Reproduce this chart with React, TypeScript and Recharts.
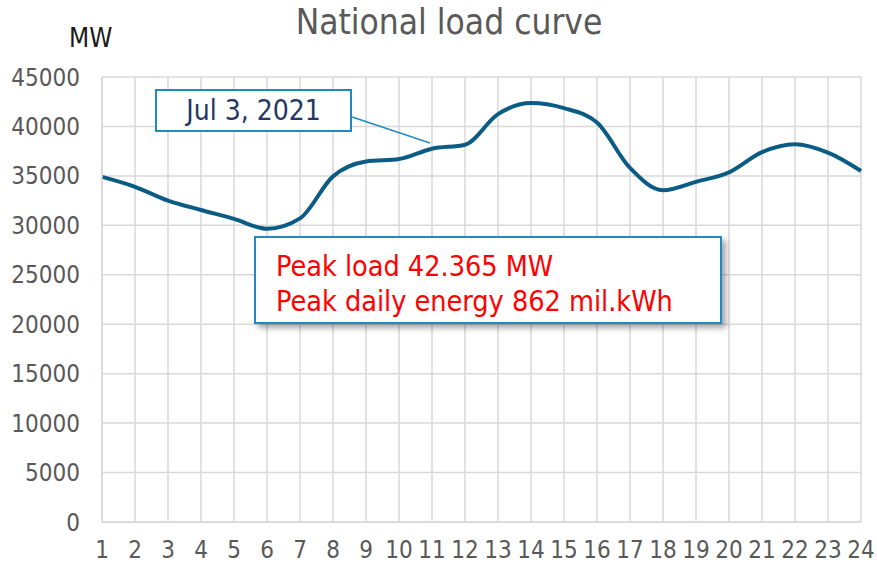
import { LineChart, Line, XAxis, YAxis, CartesianGrid, ReferenceLine } from 'recharts';

// hourly national load (MW)
const hours = [1, 2, 3, 4, 5, 6, 7, 8, 9, 10, 11, 12, 13, 14, 15, 16, 17, 18, 19, 20, 21, 22, 23, 24];
const load = [
  34900, 33900, 32500, 31550, 30650, 29650, 30700, 34950, 36450, 36700, 37750, 38150,
  41250, 42365, 41850, 40400, 35800, 33550, 34400, 35350, 37400, 38200, 37350, 35500,
];
const yTicks = [0, 5000, 10000, 15000, 20000, 25000, 30000, 35000, 40000, 45000];

const title = 'National load curve';
const unitLabel = 'MW';
const dateNote = 'Jul 3, 2021';
const peakNotes = ['Peak load 42.365 MW', 'Peak daily energy 862 mil.kWh'];

// callout leader, from the date box to the curve near hour 11
const leader = [
  { x: 8.58, y: 40950 },
  { x: 10.94, y: 38330 },
];

const data = hours.map((h, i) => ({ hour: h, load: load[i] }));

const FONT = '"DejaVu Sans Condensed", "DejaVu Sans", sans-serif';
const LINE = '#0b5c85';
const GRID = '#d9d9d9';
const BOXBLUE = '#2389c2';

export default function App() {
  return (
    <div style={{ position: 'absolute', left: 0, top: 0, width: 877, height: 566, background: '#fff', fontFamily: FONT }}>
      <LineChart width={877} height={566} data={data} margin={{ top: 77, right: 16, bottom: 0, left: 0 }}>
        <CartesianGrid stroke={GRID} strokeWidth={1.5} />
        <XAxis
          dataKey="hour"
          type="number"
          domain={[1, 24]}
          ticks={hours}
          interval={0}
          height={44}
          axisLine={{ stroke: GRID, strokeWidth: 1.5 }}
          tickLine={false}
          tickSize={0}
          tickMargin={19}
          tick={{ fill: '#595959', fontSize: 24, fontFamily: FONT }}
        />
        <YAxis
          domain={[0, 45000]}
          ticks={yTicks}
          width={102}
          axisLine={{ stroke: GRID, strokeWidth: 1.5 }}
          tickLine={false}
          tickSize={0}
          tickMargin={22}
          tick={{ fill: '#595959', fontSize: 24, fontFamily: FONT }}
        />
        <ReferenceLine segment={leader} stroke={BOXBLUE} strokeWidth={1.5} ifOverflow="visible" />
        <Line
          type="monotone"
          dataKey="load"
          stroke={LINE}
          strokeWidth={4}
          dot={false}
          isAnimationActive={false}
        />
      </LineChart>

      <div style={{ position: 'absolute', left: 0, top: 2, width: 898, textAlign: 'center', fontSize: 35, color: '#595959' }}>
        {title}
      </div>
      <div style={{ position: 'absolute', left: 69, top: 23, fontSize: 26, color: '#1a1a1a' }}>{unitLabel}</div>

      <div
        style={{
          position: 'absolute', left: 155, top: 89, width: 193, height: 39,
          border: `2px solid ${BOXBLUE}`, background: '#fff', color: '#1f3864',
          fontSize: 28, lineHeight: '39px', textAlign: 'center',
        }}
      >
        {dateNote}
      </div>

      <div
        style={{
          position: 'absolute', left: 254, top: 236, width: 468, height: 88,
          border: `2px solid ${BOXBLUE}`, background: '#fff', color: '#ff0000',
          fontSize: 28.5, lineHeight: '35px', padding: '11px 0 0 20px', boxSizing: 'border-box',
          boxShadow: '4px 4px 6px rgba(0,0,0,0.35)',
        }}
      >
        {peakNotes.map((t) => (
          <div key={t}>{t}</div>
        ))}
      </div>
    </div>
  );
}
